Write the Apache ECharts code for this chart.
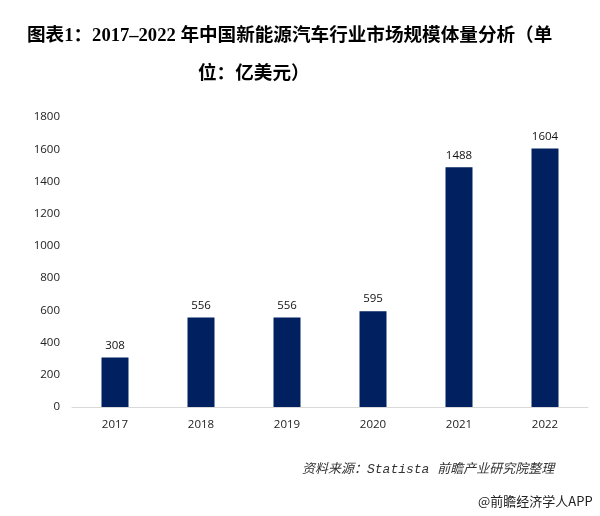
<!DOCTYPE html>
<html>
<head>
<meta charset="utf-8">
<script src="https://cdn.jsdelivr.net/npm/echarts@6/dist/echarts.min.js"></script>
<style>html,body{margin:0;padding:0;background:#fff}#c{width:600px;height:516px}</style>
</head>
<body>
<div id="c"></div>
<script>
var categories = ['2017', '2018', '2019', '2020', '2021', '2022'];
var values = [308, 556, 556, 595, 1488, 1604];
var yTicks = [0, 200, 400, 600, 800, 1000, 1200, 1400, 1600, 1800];

var chart = echarts.init(document.getElementById('c'), null, {renderer: 'canvas'});
var titleFont = '"Liberation Serif", "Noto Sans CJK SC", serif';
var labelFont = '"Open Sans", sans-serif';
chart.setOption({
  animation: false,
  backgroundColor: '#ffffff',
  graphic: [
    {type: 'text', left: 27, top: 27, style: {text: '图表1：2017–2022 年中国新能源汽车行业市场规模体量分析（单', font: 'bold 18.6px ' + titleFont, fill: '#000'}},
    {type: 'text', left: 198, top: 65, style: {text: '位：亿美元）', font: 'bold 18.6px ' + titleFont, fill: '#000'}},
    {type: 'text', left: 302, top: 463, style: {text: '资料来源：Statista 前瞻产业研究院整理', font: 'italic 13px "Liberation Mono", "Noto Sans CJK SC", monospace', fill: '#333'}},
    {type: 'text', left: 478, top: 495, style: {text: '@前瞻经济学人APP', font: '13px "Noto Sans CJK SC", sans-serif', fill: '#222'}}
  ],
  grid: {left: 72, right: 12, top: 117, bottom: 109, containLabel: false},
  xAxis: {
    type: 'category',
    data: categories,
    axisLine: {lineStyle: {color: '#d9d9d9', width: 1}},
    axisTick: {show: false},
    axisLabel: {color: '#222', fontSize: 11.5, margin: 12, fontFamily: labelFont}
  },
  yAxis: {
    type: 'value',
    min: yTicks[0],
    max: yTicks[yTicks.length - 1],
    interval: 200,
    splitLine: {show: false},
    axisLine: {show: false},
    axisTick: {show: false},
    axisLabel: {color: '#222', fontSize: 11.5, margin: 12, fontFamily: labelFont, formatter: function (v) { return String(v); }}
  },
  series: [{
    type: 'bar',
    data: values,
    barWidth: 27,
    itemStyle: {color: '#002060'},
    label: {show: true, position: 'top', distance: 6, color: '#111', fontSize: 11.5, fontFamily: labelFont}
  }]
});
</script>
</body>
</html>
